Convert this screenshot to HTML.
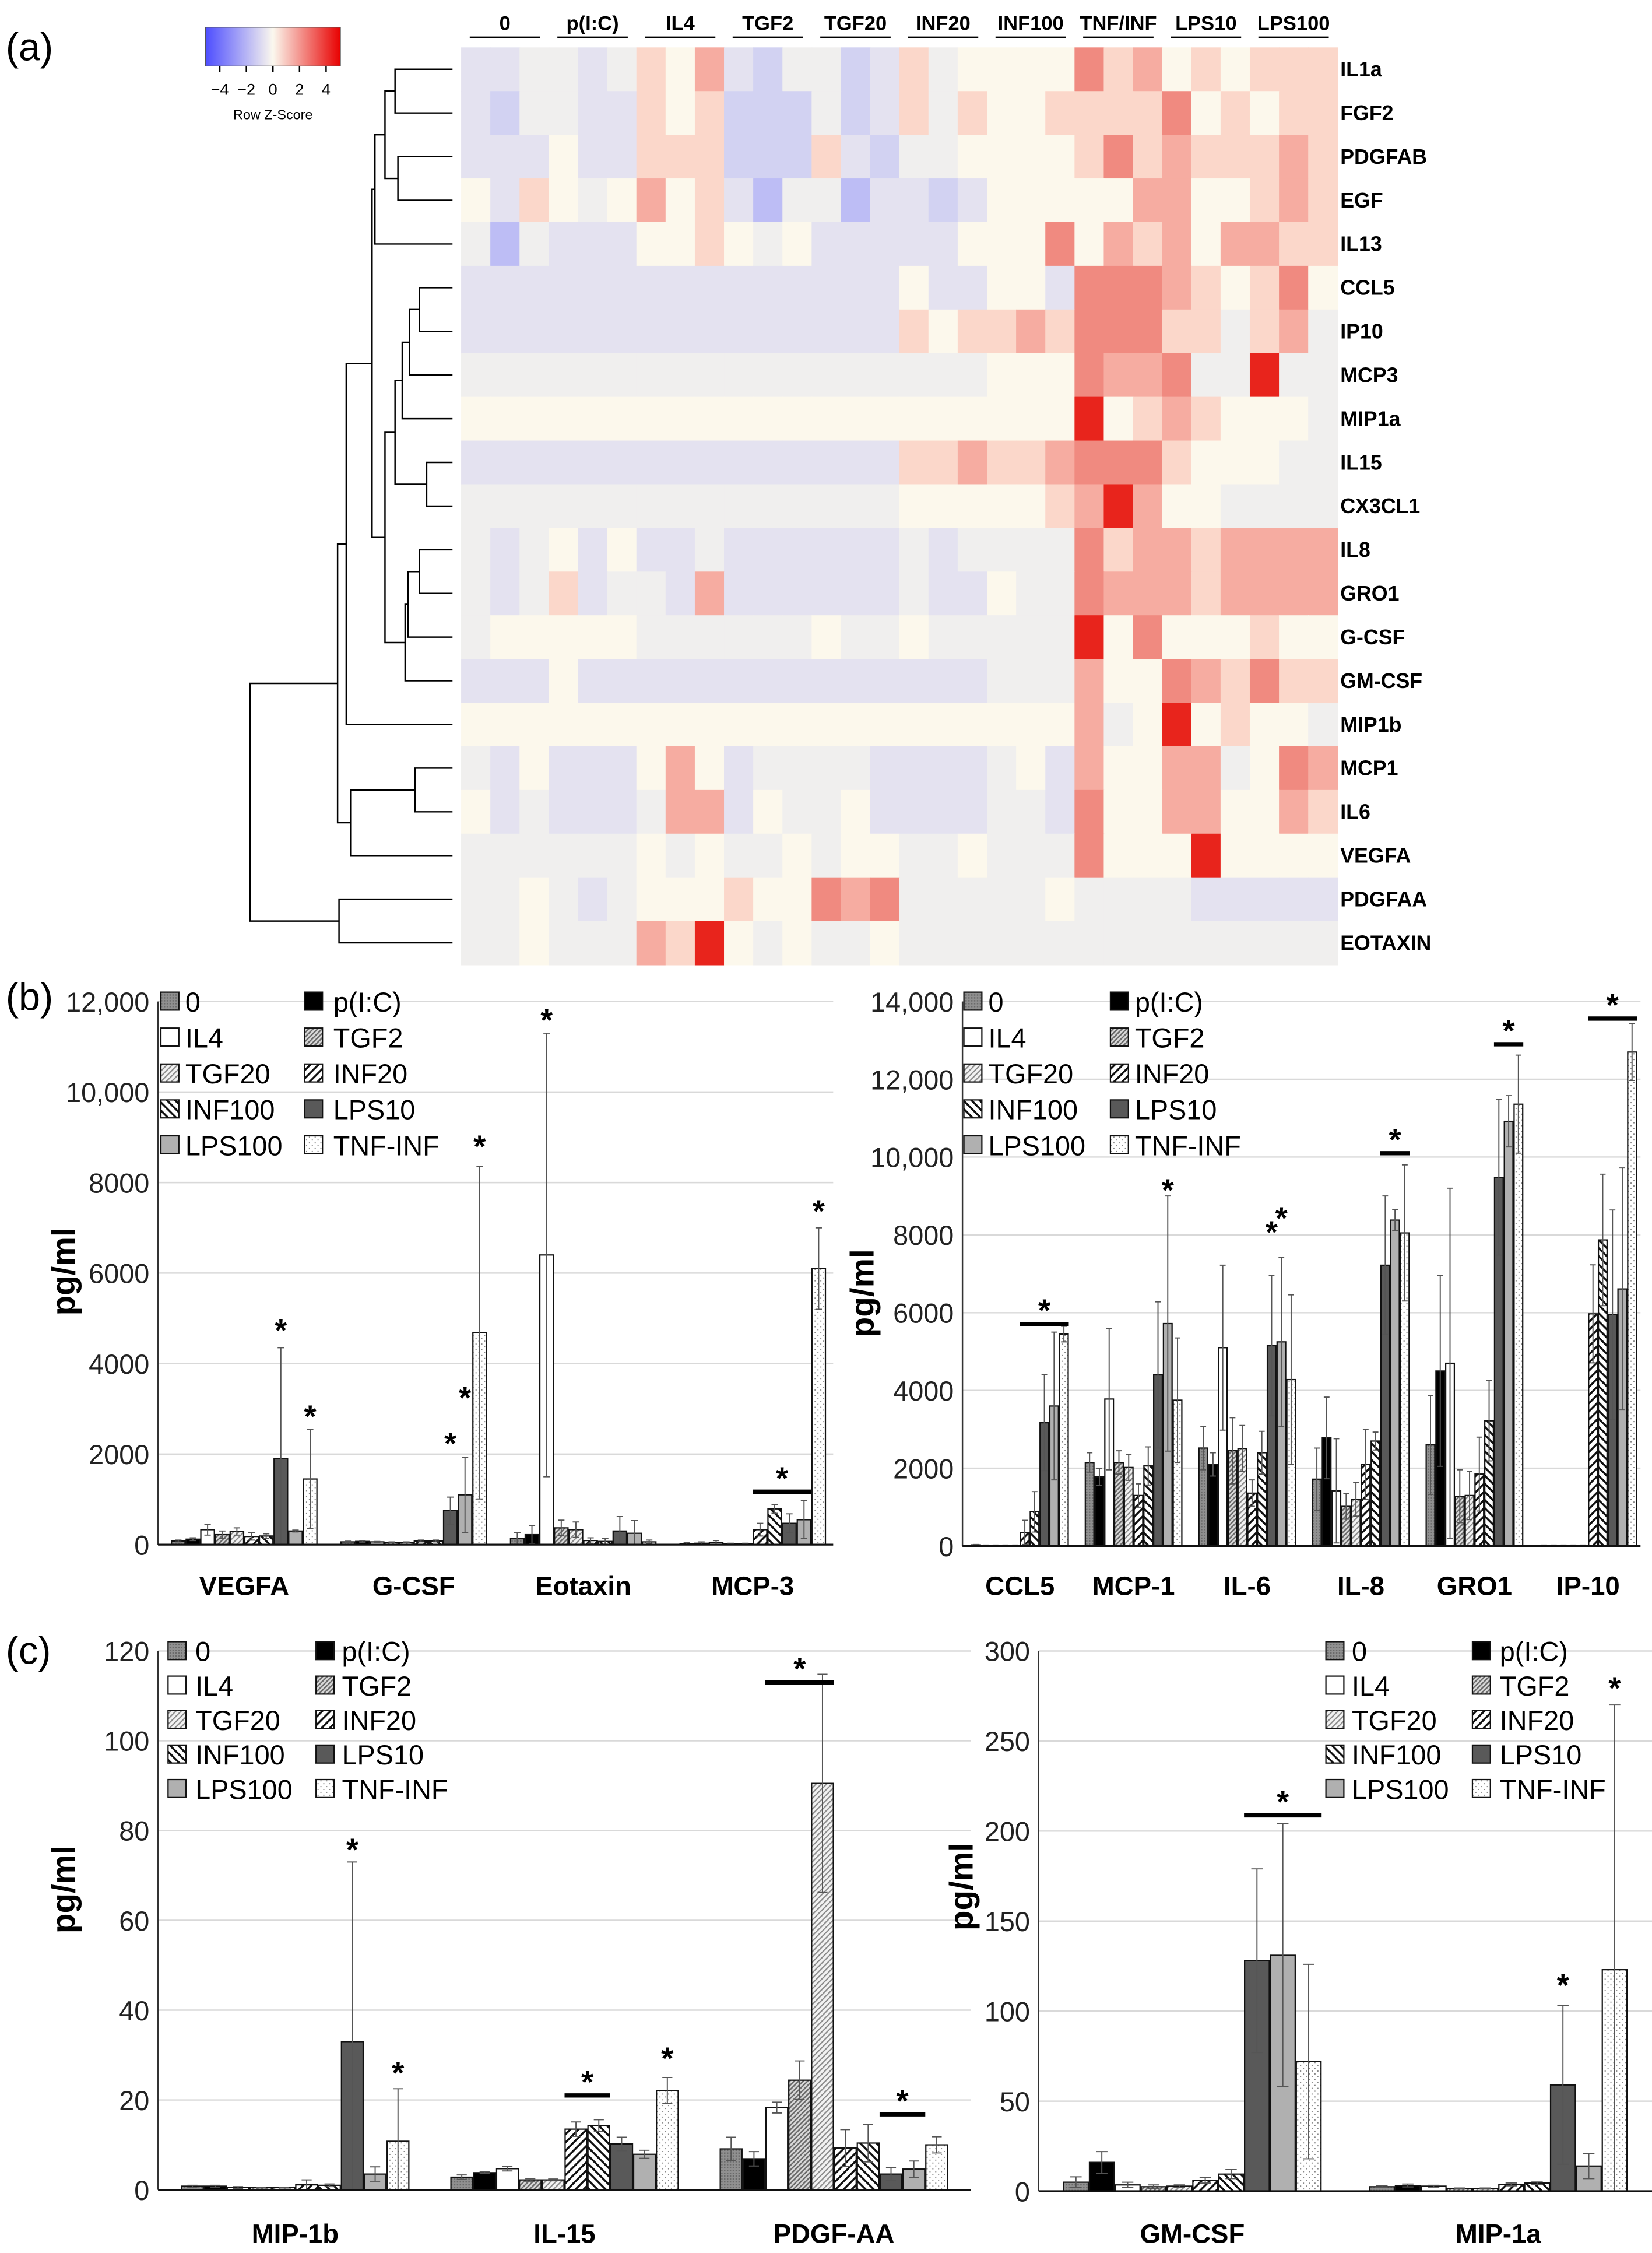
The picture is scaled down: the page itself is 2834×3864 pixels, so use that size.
<!DOCTYPE html>
<html><head><meta charset="utf-8"><style>
html,body{margin:0;padding:0;background:#fff}
svg{display:block}
text{font-family:"Liberation Sans",Arial,sans-serif}
</style></head><body>
<svg id="fig" xmlns="http://www.w3.org/2000/svg" width="2834" height="3864" viewBox="0 0 1150 1568" preserveAspectRatio="none">
<defs>
<pattern id="p0" patternUnits="userSpaceOnUse" width="2" height="2"><rect width="2" height="2" fill="#909090"/><rect width="1" height="1" fill="#6a6a6a"/></pattern>
<pattern id="pTGF2" patternUnits="userSpaceOnUse" width="2.2" height="2.2" patternTransform="rotate(45)"><rect width="2.2" height="2.2" fill="#d8d8d8"/><rect width="1" height="2.2" fill="#6a6a6a"/></pattern>
<pattern id="pTGF20" patternUnits="userSpaceOnUse" width="2.6" height="2.6" patternTransform="rotate(45)"><rect width="2.6" height="2.6" fill="#f2f2f2"/><rect width="0.9" height="2.6" fill="#8a8a8a"/></pattern>
<pattern id="pINF20" patternUnits="userSpaceOnUse" width="4" height="4" patternTransform="rotate(45)"><rect width="4" height="4" fill="#fff"/><rect width="1.4" height="4" fill="#111"/></pattern>
<pattern id="pINF100" patternUnits="userSpaceOnUse" width="4" height="4" patternTransform="rotate(-45)"><rect width="4" height="4" fill="#fff"/><rect width="1.4" height="4" fill="#111"/></pattern>
<pattern id="pTNF" patternUnits="userSpaceOnUse" width="4" height="4"><rect width="4" height="4" fill="#fff"/><rect x="1" y="1" width="0.8" height="0.8" fill="#888"/><rect x="3" y="3" width="0.8" height="0.8" fill="#888"/></pattern>
<linearGradient id="zgrad" x1="0" x2="1" y1="0" y2="0">
<stop offset="0" stop-color="#4d4dff"/><stop offset="0.5" stop-color="#fbf8ee"/><stop offset="1" stop-color="#e80000"/>
</linearGradient>
</defs>
<g id="root"></g>
</svg>
<script>
// ---------- heatmap data ----------
const hmRows = ["IL1a","FGF2","PDGFAB","EGF","IL13","CCL5","IP10","MCP3","MIP1a","IL15","CX3CL1","IL8","GRO1","G-CSF","GM-CSF","MIP1b","MCP1","IL6","VEGFA","PDGFAA","EOTAXIN"];
const hmGroups = ["0","p(I:C)","IL4","TGF2","TGF20","INF20","INF100","TNF/INF","LPS10","LPS100"];
const hmCells = [
"ccnncnpyqcbnnbcpnyyyyrpqypyppp",
"cbnnccpypbbbnbcpnpyypppprypypp",
"cccyccpppbbbpcbnnyyyyprpqpppqp",
"ycpynyqypcBnnBccbcyyyyyqqyypqp",
"nBncccyypynycccccyyyryqpqyqqpp",
"cccccccccccccccyccyycrrrqpypry",
"cccccccccccccccpyppqprrrppnpqn",
"nnnnnnnnnnnnnnnnnnyyyrqqrnnRnn",
"yyyyyyyyyyyyyyyyyyyyyRypqpyyyn",
"cccccccccccccccppqppqrrrpyyynn",
"nnnnnnnnnnnnnnnyyyyypqRqyynnnn",
"ncnycyccnccccccncnnnnrpqqpqqqq",
"ncnpcnncqccccccnccynnrqqqpqqqq",
"nyyyyynnnnnnynnynnnnnRyryyypyy",
"cccyccccccccccccccnnnqyyrqprpp",
"yyyyyyyyyyyyyyyyyyyyyqnyRypyyn",
"ncycccyqycnnnnccccnycqyyqqnyrq",
"ycncccnqqcynnyccccnncryyqqyyqp",
"nnnnnnynynnynyynnynnnryyyRyyyy",
"nnyncnyyypyyrqrnnnnnynnnnccccc",
"nnynnnqpRynynnynnnnnnnnnnnnnnn"
];
const zLevels = {B:-2.5,b:-1.5,c:-0.7,n:0,y:0.3,p:1,q:1.8,r:2.6,R:4};
const dendroMerges = [
[0,1,275],[2,3,277],[21,22,268],[23,4,261],[5,6,292],[25,7,285],[26,8,280],[9,10,297],[27,28,275],
[11,12,292],[30,13,284],[31,14,282],[29,32,268],[24,33,259],[34,15,241],[16,17,289],[36,18,244],
[35,37,235],[19,20,236],[38,39,174]
];
const zTicks = [-4,-2,0,2,4];

// ---------- bar chart data ----------
const series = ["0","p(I:C)","IL4","TGF2","TGF20","INF20","INF100","LPS10","LPS100","TNF-INF"];
const legendOrder = [0,1,2,3,4,5,6,7,8,9];

const bL_cats = ["VEGFA","G-CSF","Eotaxin","MCP-3"];
const bL_means = [
[80,120,330,220,290,180,190,1900,300,1450],
[60,70,60,50,50,80,80,750,1100,4680],
[130,220,6400,370,330,90,70,300,250,60],
[20,30,40,20,20,330,790,470,550,6100]];
const bL_errs = [
[20,30,120,80,80,80,50,2450,20,1100],
[15,15,10,10,10,20,20,300,830,3670],
[130,200,4900,170,170,60,60,320,280,40],
[30,30,50,10,10,140,100,210,420,900]];
const bL_ticks = [0,2000,4000,6000,8000,10000,12000];
const bL_tickLabels = ["0","2000","4000","6000","8000","10,000","12,000"];
const bL_stars = [[0,7,7,4880],[0,9,9,2980],[1,7,7,2380],[1,8,8,3390],[1,9,9,8940],[2,2,2,11730],[3,5,8,1170],[3,9,9,7510]];

const bR_cats = ["CCL5","MCP-1","IL-6","IL-8","GRO1","IP-10"];
const bR_means = [
[30,20,20,20,20,350,880,3170,3600,5450],
[2150,1780,3780,2150,2020,1300,2060,4400,5720,3750],
[2520,2100,5100,2450,2510,1360,2400,5150,5250,4280],
[1720,2780,1420,1020,1200,2100,2700,7220,8380,8050],
[2600,4500,4700,1280,1300,1850,3220,9480,10920,11360],
[20,20,20,20,20,5970,7870,5950,6610,12700]];
const bR_errs = [
[10,5,5,5,5,310,520,1230,1900,200],
[250,220,1820,300,330,300,490,1880,3280,1600],
[560,300,2120,850,590,340,550,1800,2170,2180],
[800,1050,1340,330,430,900,230,1780,270,1750],
[1270,2450,4500,680,620,950,1030,2000,660,1260],
[5,5,5,5,5,1260,1690,2690,3110,730]];
const bR_ticks = [0,2000,4000,6000,8000,10000,12000,14000];
const bR_tickLabels = ["0","2000","4000","6000","8000","10,000","12,000","14,000"];
const bR_stars = [[0,5,9,5710],[1,8,8,9320],[2,7,7,8240],[2,8,8,8600],[3,7,9,10100],[4,7,9,12900],[5,5,9,13560]];

const cL_cats = ["MIP-1b","IL-15","PDGF-AA"];
const cL_means = [
[0.8,0.8,0.5,0.5,0.5,1.1,1.0,33,3.5,10.8],
[2.8,3.8,4.7,2.2,2.2,13.5,14.3,10.2,7.9,22.1],
[9.1,6.9,18.3,24.4,90.5,9.3,10.4,3.5,4.6,10.0]];
const cL_errs = [
[0.2,0.2,0.2,0.1,0.1,1.1,0.3,40,1.6,11.7],
[0.5,0.2,0.5,0.3,0.2,1.6,1.3,1.5,0.9,2.9],
[2.6,1.6,1.2,4.3,24.3,4.1,4.2,1.4,1.8,1.8]];
const cL_ticks = [0,20,40,60,80,100,120];
const cL_tickLabels = ["0","20","40","60","80","100","120"];
const cL_stars = [[0,7,7,77.2],[0,9,9,27.5],[1,5,6,21.0],[1,9,9,30.7],[2,2,4,113],[2,7,8,16.8]];

const cR_cats = ["GM-CSF","MIP-1a"];
const cR_means = [
[5,16,3.5,2.5,2.8,6,9.5,128,131,72],
[2.5,3.2,2.8,1.5,1.5,3.8,4.5,59,14,123]];
const cR_errs = [
[3,6,1.5,1,0.7,1.5,2.5,51,73,54],
[0.5,0.8,0.5,0.3,0.3,0.8,0.6,44,7,147]];
const cR_ticks = [0,50,100,150,200,250,300];
const cR_tickLabels = ["0","50","100","150","200","250","300"];
const cR_stars = [[0,7,9,208.7],[1,7,7,118],[1,9,9,283]];

// ---------- helpers ----------
const NS = "http://www.w3.org/2000/svg";
const root = document.getElementById("root");
function mk(tag, attrs, parent){
  const e = document.createElementNS(NS, tag);
  for (const k in attrs) e.setAttribute(k, attrs[k]);
  (parent||root).appendChild(e);
  return e;
}
function txt(s, attrs, parent){
  const e = mk("text", attrs, parent);
  e.textContent = s;
  return e;
}
const stops = [[-4,[77,77,255]],[-2.5,[189,189,245]],[-1.5,[210,210,242]],[-0.7,[228,226,240]],[0,[240,239,238]],[0.3,[252,248,236]],[1,[251,215,202]],[1.8,[246,172,161]],[2.6,[240,138,128]],[4,[232,36,28]]];
function zColor(z){
  if (z<=stops[0][0]) return "rgb("+stops[0][1]+")";
  for (let i=1;i<stops.length;i++){
    if (z<=stops[i][0]){
      const a=stops[i-1], b=stops[i], t=(z-a[0])/(b[0]-a[0]);
      const c=a[1].map((v,j)=>Math.round(v+(b[1][j]-v)*t));
      return "rgb("+c.join(",")+")";
    }
  }
  return "rgb("+stops[stops.length-1][1]+")";
}
const fills = ["url(#p0)","#000","#fff","url(#pTGF2)","url(#pTGF20)","url(#pINF20)","url(#pINF100)","#595959","#b0b0b0","url(#pTNF)"];

// ---------- panel labels ----------
[["(a)",4,42],["(b)",4,703],["(c)",4,1158]].forEach(p=>{
  const t = txt(p[0],{x:p[1],y:p[2],"font-size":27});
  
  
});

// ---------- heatmap ----------
const hmX0=321, hmY0=33, cw=(931-321)/30, rh=30.4;
const hmG = mk("g",{});


hmCells.forEach((row,r)=>{
  for (let c=0;c<30;c++){
    const z = zLevels[row[c]] ?? 0;
    const rc = mk("rect",{x:hmX0+c*cw,y:hmY0+r*rh,width:cw+0.4,height:rh+0.4,fill:zColor(z)},hmG);
    
    
  }
  const lb = txt(hmRows[r],{x:933,y:hmY0+r*rh+rh/2+5,"font-size":14.5,"font-weight":"bold"});
  
  
});
hmGroups.forEach((g,i)=>{
  const cx = hmX0+cw*3*i+cw*1.5;
  const t = txt(g,{x:cx,y:21,"font-size":14,"font-weight":"bold","text-anchor":"middle"});
  
  
  const l = mk("line",{x1:hmX0+cw*3*i+6,x2:hmX0+cw*3*(i+1)-6,y1:26,y2:26,stroke:"#000","stroke-width":1.2});
  
  
});
// dendrogram
const nodeY = [], nodeX = [];
for (let i=0;i<hmRows.length;i++){ nodeY[i]=hmY0+i*rh+rh/2; nodeX[i]=315; }
const dG = mk("g",{stroke:"#000","stroke-width":1,fill:"none"});


dendroMerges.forEach((m,k)=>{
  const id = hmRows.length+k, a=m[0], b=m[1], x=m[2];
  nodeX[id]=x; nodeY[id]=(nodeY[a]+nodeY[b])/2;
  const p = mk("path",{d:`M${nodeX[a]},${nodeY[a]}H${x}V${nodeY[b]}H${nodeX[b]}`},dG);
  
  
});
// color key
const keyR = mk("rect",{x:143,y:19,width:94,height:27,fill:"url(#zgrad)",stroke:"#555","stroke-width":0.5});


zTicks.forEach(v=>{
  const x = 153+(v+4)/8*74;
  const tk = mk("line",{x1:x,x2:x,y1:46,y2:50,stroke:"#000","stroke-width":1});
  
  
  const t = txt((v<0?"\u2212":"")+Math.abs(v),{x:x,y:66,"font-size":11,"text-anchor":"middle"});
  
  
});
const kt = txt("Row Z-Score",{x:190,y:83,"font-size":9.5,"text-anchor":"middle"});



// ---------- bar chart function ----------
function drawChart(name, cfg, cats, means, errs, ticks, tickLabels, stars){
  const g = mk("g",{});
  
  
  const maxV = ticks[ticks.length-1];
  const yS = v => cfg.y0 - (v/maxV)*(cfg.y0-cfg.yTop);
  const bw = cfg.groupW/10;
  const xBar = (gi,si) => cfg.c0 + gi*cfg.stride - cfg.groupW/2 + si*bw;
  ticks.forEach((t,i)=>{
    if (t>0){
      const gl = mk("line",{x1:cfg.ax,x2:cfg.xEnd,y1:yS(t),y2:yS(t),stroke:"#d9d9d9","stroke-width":1},g);
      
      
    }
    const tl = txt(tickLabels[i],{x:cfg.ax-6,y:yS(t)+7,"font-size":19,"text-anchor":"end",fill:"#222"},g);
    
    
  });
  const ya = mk("line",{x1:cfg.ax,x2:cfg.ax,y1:cfg.yTop,y2:cfg.y0,stroke:"#333","stroke-width":1},g);
  
  
  const yt = txt("pg/ml",{x:0,y:0,"font-size":23,"font-weight":"bold","text-anchor":"middle",transform:`translate(${cfg.ytx},${cfg.yty}) rotate(-90)`},g);
  
  
  cats.forEach((c,gi)=>{
    means[gi].forEach((v,si)=>{
      const x = xBar(gi,si), y = yS(v);
      const r = mk("rect",{x:x+0.4,y:y,width:bw-0.8,height:Math.max(0.5,cfg.y0-y),fill:fills[si],stroke:"#111","stroke-width":0.9},g);
      
      
      const e = errs[gi][si], cx = x+bw/2, cap = Math.max(2, bw*0.22);
      const top = yS(v+e), bot = yS(Math.max(0,v-e));
      const eb = mk("path",{d:`M${cx},${top}V${bot}M${cx-cap},${top}H${cx+cap}M${cx-cap},${bot}H${cx+cap}`,stroke:"#555","stroke-width":0.8,fill:"none"},g);
      
      
    });
    const cl = txt(c,{x:cfg.c0+gi*cfg.stride,y:cfg.labY,"font-size":18.5,"font-weight":"bold","text-anchor":"middle"},g);
    
    
  });
  const xa = mk("line",{x1:cfg.ax,x2:cfg.xEnd,y1:cfg.y0,y2:cfg.y0,stroke:"#111","stroke-width":1.3},g);
  
  
  stars.forEach(s=>{
    const gi=s[0], a=s[1], b=s[2], y=yS(s[3]);
    let cy = y, cx;
    if (a!==b){
      const x1 = xBar(gi,a), x2 = xBar(gi,b)+bw;
      const ln = mk("line",{x1:x1,x2:x2,y1:y,y2:y,stroke:"#000","stroke-width":3},g);
      
      
      cx=(x1+x2)/2; cy=y-14;
    } else cx = xBar(gi,a)+bw/2;
    const st = txt("*",{x:cx,y:cy+12,"font-size":22,"font-weight":"bold","text-anchor":"middle"},g);
    
    
  });
  // legend
  const lg = mk("g",{},g);
  
  
  legendOrder.forEach((si,k)=>{
    const col = k%2, row = Math.floor(k/2);
    const cy = cfg.legY + row*cfg.legDy;
    const sx = cfg.legSx[col];
    const sw = mk("rect",{x:sx,y:cy-6.5,width:12.5,height:12.5,fill:fills[si],stroke:"#111","stroke-width":0.9},lg);
    
    
    const lt = txt(series[si],{x:cfg.legTx[col],y:cy+7,"font-size":19},lg);
    
    
  });
}

drawChart("chart-b-left",{ax:110,xEnd:580,y0:1075,yTop:697,c0:170,stride:118,groupW:102,labY:1110,ytx:52,yty:885,legY:697,legDy:25,legSx:[112,212],legTx:[129,232]},bL_cats,bL_means,bL_errs,bL_ticks,bL_tickLabels,bL_stars);
drawChart("chart-b-right",{ax:670,xEnd:1142,y0:1076,yTop:697,c0:710,stride:79.1,groupW:68,labY:1110,ytx:608,yty:900,legY:697,legDy:25,legSx:[671,773],legTx:[688,790]},bR_cats,bR_means,bR_errs,bR_ticks,bR_tickLabels,bR_stars);
drawChart("chart-c-left",{ax:110,xEnd:676,y0:1524,yTop:1149,c0:205.5,stride:187.5,groupW:159,labY:1561,ytx:52,yty:1315,legY:1149,legDy:24,legSx:[117,220],legTx:[136,238]},cL_cats,cL_means,cL_errs,cL_ticks,cL_tickLabels,cL_stars);
drawChart("chart-c-right",{ax:723,xEnd:1150,y0:1525,yTop:1149,c0:830,stride:213,groupW:180,labY:1561,ytx:677,yty:1313,legY:1149,legDy:24,legSx:[923,1025],legTx:[941,1044]},cR_cats,cR_means,cR_errs,cR_ticks,cR_tickLabels,cR_stars);
</script>
</body></html>
